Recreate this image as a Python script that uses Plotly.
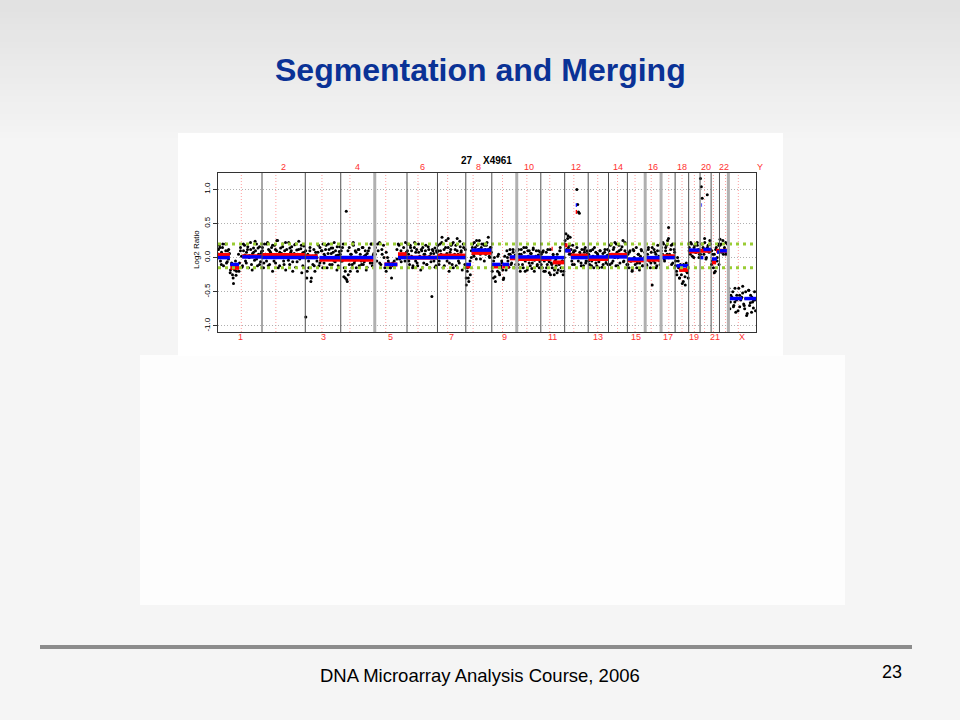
import plotly.graph_objects as go

# ---------------- data ----------------
chrom_names = ['1','2','3','4','5','6','7','8','9','10','11','12','13','14','15','16','17','18','19','20','21','22','X']
chrom_len = [247,243,199,191,181,171,159,146,140,135,134,132,114,106,100,89,79,76,64,62,47,50,155]   # Mb
centromere_frac = [0.53,0.32,0.47,0.27,0.34,0.36,0.36,0.28,0.43,0.42,0.375,0.39,0.47,0.48,0.43,0.38,0.55,0.51,0.5,0.41,0.27,0.68,0.36]
light_boundaries = [3, 8, 14, 15, 21]   # boundary after these chromosomes drawn light/thick

# log2 ratios per chromosome (in probe order), array A
log2_ratio_a = [
    [0.12,0.18,-0.05,0.08,0.15,-0.12,0.03,0.2,-0.08,0.1,-0.02,0.06,-0.18,-0.1,-0.25,-0.38,-0.14,-0.05,-0.2,-0.12,
     0.05,-0.08,0.15,0.02,-0.12,0.1,0.18,-0.05,0.08,0.12,-0.15,0.03,0.22,-0.1,0.06,0.14,-0.04,0.1,0.2,-0.12,0.05,0.16,-0.06,0.09],
    [0.1,-0.15,0.2,0.05,-0.05,0.22,0.12,-0.1,0.08,0.15,-0.2,0.03,0.18,-0.08,0.1,0.25,0.0,-0.12,0.14,0.06,0.2,-0.05,
     0.1,-0.18,0.12,0.04,0.22,-0.1,0.08,0.16,-0.06,0.02,0.19,-0.14,0.11,0.05,0.24,-0.02,0.13,-0.22,0.07,0.17,0.0],
    [-0.87,-0.3,0.05,-0.15,0.1,-0.35,0.0,-0.1,0.12,-0.2,0.04,-0.05,0.08,-0.12,0.15,-0.04,0.1,0.2,-0.08,0.02,0.18,
     -0.15,0.06,0.12,-0.02,0.14,-0.1,0.08,0.22,-0.06,0.03,0.16,-0.12,0.09,0.05],
    [0.1,-0.05,0.2,-0.15,-0.3,0.68,-0.35,-0.25,0.15,-0.2,0.05,-0.1,0.22,-0.08,0.1,-0.15,0.0,0.12,-0.12,0.05,-0.05,
     0.15,-0.1,0.02,0.1,-0.18,0.06,-0.02,0.14,-0.08,0.2,-0.12,0.04,0.0],
    [0.15,-0.05,0.1,0.22,-0.1,0.05,0.18,-0.15,0.08,0.0,-0.08,-0.15,-0.3,-0.12,-0.05,-0.1,0.12,0.2,-0.02,0.1,0.05,0.15,-0.05,0.08],
    [0.2,0.05,-0.1,0.15,0.1,-0.15,0.0,0.22,-0.05,0.12,-0.12,0.08,0.02,-0.18,0.1,0.15,-0.08,0.05,0.18,-0.1,0.0,0.12,
     -0.15,0.06,-0.57,0.1,-0.05,0.14,-0.12,0.08],
    [0.1,-0.1,0.2,0.05,0.3,-0.15,0.12,0.0,0.25,-0.05,0.15,-0.2,0.08,0.18,-0.1,0.22,0.02,0.12,-0.12,0.28,0.05,-0.08,
     0.16,0.1,-0.18,0.2,0.0,0.12],
    [-0.4,-0.2,-0.3,-0.1,-0.25,0.0,0.15,0.05,0.22,0.1,-0.02,0.18,0.12,0.25,0.05,0.15,0.08,0.2,-0.05,0.12,0.18,0.1,0.3,0.02,0.15,0.08],
    [-0.15,-0.3,0.0,-0.35,-0.1,-0.2,0.05,-0.25,-0.12,-0.05,-0.18,-0.3,0.02,-0.1,0.1,-0.05,0.05,0.12,-0.1,0.0,0.08,-0.15,0.04,0.1],
    [0.1,-0.1,0.05,-0.2,0.12,0.0,-0.15,0.08,-0.05,0.15,-0.18,0.02,0.1,-0.12,0.06,-0.08,0.14,-0.2,0.0,0.1,-0.1,0.04,-0.15,0.08],
    [0.05,-0.15,0.1,-0.05,-0.2,0.08,-0.1,0.0,-0.22,0.12,-0.08,-0.15,0.02,-0.25,-0.05,-0.12,0.05,-0.18,-0.1,0.15,-0.2,-0.05,-0.25,0.0],
    [0.2,0.35,0.1,0.28,0.15,0.05,0.3,0.12,-0.05,0.18,0.08,-0.1,0.1,0.02,1.0,0.78,0.67,0.65,0.05,-0.08,0.12,0.0,-0.12,0.08,0.15,-0.05,0.1,0.02],
    [0.05,-0.1,0.1,-0.05,0.12,-0.15,0.0,0.08,-0.12,0.04,-0.06,0.1,-0.02,-0.14,0.06,0.0,0.12,-0.08,0.03,-0.1],
    [0.1,-0.1,0.2,0.05,-0.05,0.15,0.22,-0.12,0.08,0.0,0.18,-0.08,0.12,0.02,0.25,-0.05,0.1,0.06,-0.1],
    [0.05,-0.15,0.1,-0.05,-0.2,0.12,0.0,-0.1,0.15,-0.08,0.05,-0.18,0.02,0.1,-0.12,-0.02,0.08],
    [0.1,-0.1,0.05,0.15,-0.05,-0.15,0.08,-0.4,0.0,0.12,-0.08,0.05,-0.12,0.18,0.02,-0.05,0.1],
    [0.15,0.05,0.2,-0.05,0.1,0.18,0.25,0.44,0.05,0.12,-0.1,0.2,0.0,0.08],
    [-0.05,-0.2,0.0,-0.15,-0.3,-0.1,-0.25,-0.12,-0.35,-0.18,-0.4,-0.08,-0.22,-0.3],
    [0.15,0.05,0.2,0.1,0.0,0.18,0.08,0.22,0.12,0.05],
    [1.16,1.04,0.87,0.15,0.05,0.22,0.1,0.0,0.92,0.18,0.08,0.25,0.12],
    [0.1,-0.05,-0.15,0.05,-0.2,0.15,0.0,0.2,-0.1],
    [0.27,0.2,0.1,0.05,0.15,0.22,0.08,0.12],
    [-0.45,-0.75,-0.55,-0.6,-0.5,-0.7,-0.65,-0.8,-0.55,-0.6,-0.45,-0.72,-0.62,-0.58,-0.42,-0.68,-0.75,-0.5,-0.85,
     -0.6,-0.48,-0.7,-0.55,-0.8,-0.65,-0.62,-0.5,-0.78],
]
# second probe set per chromosome, array B
log2_ratio_b = [
    [0.05,0.15,-0.1,0.2,0.0,0.1,-0.06,0.12,-0.22,-0.08,-0.3,-0.18,-0.26,-0.1,-0.2,0.1,-0.14,0.2,0.04,-0.08,0.16,0.0,
     0.12,-0.18,0.08,0.24,-0.02,0.14,-0.1,0.06],
    [0.15,-0.08,0.05,0.2,-0.12,0.1,0.02,0.18,-0.05,0.12,0.25,-0.15,0.08,0.0,0.16,-0.1,0.22,0.04,-0.04,0.14,0.1,-0.2,
     0.06,0.2,-0.06,0.12,0.02,0.18,-0.12,0.08],
    [0.1,-0.2,-0.05,0.15,-0.3,0.02,-0.12,0.08,0.0,0.18,-0.08,0.1,-0.15,0.05,0.12,-0.02,0.2,-0.1,0.06,0.14,-0.05,0.1,-0.18,0.04,0.16],
    [-0.05,0.15,-0.28,-0.2,-0.32,0.1,-0.1,0.05,-0.15,0.18,-0.05,0.08,-0.2,0.12,0.0,-0.1,0.15,-0.06,0.04,-0.14,0.1,-0.02,0.2,-0.08,0.06],
    [0.05,0.2,-0.08,0.12,0.0,-0.2,-0.05,-0.15,-0.08,-0.12,-0.02,0.18,-0.06,0.05,0.22],
    [0.1,-0.05,0.18,0.02,-0.12,0.15,0.08,-0.08,0.2,0.0,0.12,-0.15,0.05,0.1,-0.1,0.16,0.02,-0.06,0.12,0.06,-0.14,0.1],
    [0.18,-0.05,0.1,0.22,0.0,-0.12,0.15,0.06,0.28,-0.08,0.12,0.2,-0.15,0.05,0.18,0.1,-0.05,0.24,0.08,0.0,0.15,-0.1],
    [-0.3,-0.15,-0.35,-0.05,0.1,0.2,0.02,0.15,0.25,0.08,0.12,-0.02,0.2,0.1,0.18,0.05,0.22,0.12,0.0,0.15],
    [-0.2,-0.05,-0.28,-0.12,0.02,-0.22,-0.15,-0.08,-0.32,-0.1,-0.18,0.0,-0.14,0.05,-0.08,0.12,0.0,-0.1],
    [-0.05,0.12,-0.15,0.05,-0.1,0.15,-0.2,0.0,0.1,-0.08,0.06,-0.16,0.12,-0.04,0.02,-0.12,0.1,-0.06],
    [-0.1,0.08,-0.2,0.0,-0.15,0.12,-0.06,-0.25,-0.1,0.05,-0.18,-0.02,-0.22,-0.08,0.1,-0.15,-0.05,-0.2],
    [0.25,0.12,0.32,0.18,0.05,-0.1,0.1,0.0,0.15,-0.05,0.08,-0.12,0.04,0.12,-0.08,0.06],
    [-0.05,0.1,-0.12,0.02,0.15,-0.08,0.06,-0.15,0.1,0.0,-0.1,0.08,-0.04,0.12],
    [0.05,0.18,-0.08,0.12,0.0,0.2,-0.12,0.1,0.04,0.16,-0.06,0.22,0.02],
    [-0.1,0.08,-0.05,-0.18,0.1,-0.02,-0.15,0.05,-0.08,0.12,-0.12,0.0],
    [0.05,-0.12,0.12,0.0,-0.08,0.15,-0.05,0.08,-0.15,0.1,0.0,-0.1],
    [0.1,0.22,-0.02,0.15,0.05,0.28,0.0,0.18,-0.08,0.12],
    [-0.12,-0.25,-0.05,-0.3,-0.18,-0.38,-0.1,-0.28,-0.2,-0.15],
    [0.1,0.22,0.02,0.15,0.08,0.18,0.0],
    [0.05,0.2,0.12,0.28,-0.02,0.15,0.1,0.2],
    [-0.1,0.05,-0.22,0.12,-0.05,0.18],
    [0.18,0.08,0.25,0.12,0.05,0.2],
    [-0.5,-0.65,-0.58,-0.72,-0.45,-0.62,-0.78,-0.55,-0.6,-0.52,-0.7,-0.6,-0.82,-0.48,-0.66,-0.58,-0.74,-0.62],
]

# segments: (chromosome index, start fraction, end fraction, level)
seg_red = [
    (0,0.0,0.27,0.04),(0,0.28,0.48,-0.15),(0,0.55,1.0,0.02),
    (1,0.0,1.0,0.04),
    (2,0.0,0.35,0.02),(2,0.4,1.0,-0.03),
    (3,0.0,1.0,-0.03),
    (4,0.3,0.7,-0.1),(4,0.72,1.0,0.05),
    (5,0.0,1.0,0.0),
    (6,0.0,1.0,0.03),
    (7,0.0,0.2,-0.13),(7,0.22,1.0,0.07),
    (8,0.0,0.35,-0.13),(8,0.42,0.7,-0.13),(8,0.72,1.0,-0.01),
    (9,0.0,1.0,-0.02),
    (10,0.0,0.45,-0.02),(10,0.45,0.5,0.13),(10,0.5,1.0,-0.07),
    (11,0.0,0.12,0.18),(11,0.12,0.26,0.1),(11,0.26,1.0,0.03),(11,0.47,0.53,0.67),
    (12,0.0,1.0,-0.02),
    (13,0.0,1.0,0.04),
    (14,0.0,1.0,-0.04),
    (15,0.0,1.0,-0.03),
    (16,0.0,1.0,0.02),
    (17,0.3,1.0,-0.18),
    (18,0.0,1.0,0.09),
    (19,0.0,1.0,0.1),
    (20,0.1,0.6,-0.07),(20,0.6,1.0,0.1),
    (21,0.0,1.0,0.1),
]
seg_blue = [
    (0,0.0,0.27,0.0),(0,0.28,0.48,-0.1),(0,0.55,1.0,0.01),
    (1,0.0,1.0,0.0),
    (2,0.0,0.35,0.0),(2,0.4,1.0,0.0),
    (3,0.0,1.0,0.0),
    (4,0.3,0.7,-0.1),(4,0.72,1.0,0.0),
    (5,0.0,1.0,0.0),
    (6,0.0,1.0,0.0),
    (7,0.0,0.2,-0.1),(7,0.22,1.0,0.11),
    (8,0.0,0.35,-0.1),(8,0.42,0.7,-0.1),(8,0.72,1.0,0.01),
    (9,0.0,1.0,0.01),
    (10,0.0,1.0,0.0),
    (11,0.0,0.26,0.1),(11,0.26,1.0,0.0),(11,0.47,0.53,0.77),
    (12,0.0,1.0,0.01),
    (13,0.0,1.0,0.01),
    (14,0.0,1.0,-0.02),
    (15,0.0,1.0,0.0),
    (16,0.0,1.0,0.0),
    (17,0.1,1.0,-0.12),
    (18,0.0,1.0,0.11),
    (19,0.0,0.3,0.0),(19,0.3,1.0,0.12),(19,0.12,0.18,0.77),
    (20,0.1,0.7,-0.02),(20,0.7,1.0,0.08),
    (21,0.0,1.0,0.1),
    (22,0.0,0.5,-0.6),(22,0.58,1.0,-0.6),
]
upper_threshold = 0.2
lower_threshold = -0.15
y_ticks = [-1.0, -0.5, 0.0, 0.5, 1.0]
y_tick_text = ['-1.0', '-0.5', '0.0', '0.5', '1.0']

# ---------------- derived positions ----------------
offsets = []
acc = 0
for L in chrom_len:
    offsets.append(acc)
    acc += L
genome_end = acc

W, H = 960, 720
px_l, px_r, px_t, px_b = 218, 756, 173, 332
FONT = 'Liberation Sans, Arial, sans-serif'

pt_x, pt_y = [], []
for arr, shift in ((log2_ratio_a, 0.5), (log2_ratio_b, 0.3)):
    for i, vals in enumerate(arr):
        n = len(vals)
        for j, v in enumerate(vals):
            pt_x.append(offsets[i] + (j + shift) / n * chrom_len[i])
            pt_y.append(v)

def seg_xy(segs):
    xs, ys = [], []
    for (c, f0, f1, v) in segs:
        xs += [offsets[c] + f0 * chrom_len[c], offsets[c] + f1 * chrom_len[c], None]
        ys += [v, v, None]
    return xs, ys

fig = go.Figure()

fig.add_trace(go.Scatter(x=pt_x, y=pt_y, mode='markers',
                         marker=dict(color='black', size=3, line=dict(width=0)),
                         showlegend=False, hoverinfo='skip', cliponaxis=True))
rx, ry = seg_xy(seg_red)
fig.add_trace(go.Scatter(x=rx, y=ry, mode='lines', line=dict(color='#ff0000', width=4),
                         showlegend=False, hoverinfo='skip'))
bx, by = seg_xy(seg_blue)
fig.add_trace(go.Scatter(x=bx, y=by, mode='lines', line=dict(color='#0000ff', width=3.5),
                         showlegend=False, hoverinfo='skip'))

shapes = []
# slide background gradient at top
n_strips = 24
for k in range(n_strips):
    t = k / (n_strips - 1)
    g = int(0xe2 + (0xf5 - 0xe2) * t)
    shapes.append(dict(type='rect', xref='paper', yref='paper', layer='below',
                       x0=0, x1=1, y0=1 - (k + 1) * 6 / H, y1=1 - k * 6 / H,
                       fillcolor='rgb(%d,%d,%d)' % (g, g, g), line=dict(width=0)))
# white panels
shapes.append(dict(type='rect', xref='paper', yref='paper', layer='below',
                   x0=140 / W, x1=845 / W, y0=1 - 605 / H, y1=1 - 355 / H,
                   fillcolor='#fdfdfd', line=dict(width=0)))
shapes.append(dict(type='rect', xref='paper', yref='paper', layer='below',
                   x0=178 / W, x1=783 / W, y0=1 - 356 / H, y1=1 - 133 / H,
                   fillcolor='#ffffff', line=dict(width=0)))
# centromere dotted lines
for i, f in enumerate(centromere_frac):
    xc = offsets[i] + f * chrom_len[i]
    shapes.append(dict(type='line', xref='x', yref='y domain', x0=xc, x1=xc, y0=0, y1=1,
                       line=dict(color='#ffa0a0', width=1, dash='1px,2px'), layer='below'))
# threshold lines
for yv in (upper_threshold, lower_threshold):
    shapes.append(dict(type='line', xref='x domain', yref='y', x0=0, x1=1, y0=yv, y1=yv,
                       line=dict(color='#99cc33', width=3, dash='3px,4px'), layer='above'))
# chromosome boundaries
for i in range(len(chrom_len) - 1):
    xb = offsets[i] + chrom_len[i]
    if i in light_boundaries:
        ln = dict(color='#b0b0b0', width=3)
    else:
        ln = dict(color='#505050', width=1)
    shapes.append(dict(type='line', xref='x', yref='y domain', x0=xb, x1=xb, y0=0, y1=1,
                       line=ln, layer='above'))
# footer rule
shapes.append(dict(type='line', xref='paper', yref='paper', x0=40 / W, x1=912 / W,
                   y0=1 - 647 / H, y1=1 - 647 / H, line=dict(color='#8c8c8c', width=4)))

def ann(x, y, text, size, color='black', xref='paper', angle=0):
    return dict(x=x, y=y, xref=xref, yref='paper', text=text, showarrow=False,
                xanchor='center', yanchor='middle', textangle=angle,
                font=dict(color=color, size=size, family=FONT))

annotations = []
for i, name in enumerate(chrom_names):
    xc = offsets[i] + chrom_len[i] / 2
    top = (i % 2 == 1)
    annotations.append(ann(xc, 1 - (167 if top else 337) / H, name, 9, '#ff3030', xref='x'))
annotations.append(ann(760 / W, 1 - 167 / H, 'Y', 9, '#ff3030'))
annotations.append(ann(466.5 / W, 1 - 160.5 / H, '<b>27</b>', 10))
annotations.append(ann(497 / W, 1 - 160.5 / H, '<b>X4961</b>', 10))
annotations.append(ann(196 / W, 1 - 250 / H, 'Log2 Ratio', 8, angle=-90))
annotations.append(ann(480 / W, 1 - 70 / H, '<b>Segmentation and Merging</b>', 32, '#0a3296'))
annotations.append(ann(480 / W, 1 - 675 / H, 'DNA Microarray Analysis Course, 2006', 18.5))
annotations.append(ann(891.5 / W, 1 - 672 / H, '23', 18))

fig.update_layout(
    width=W, height=H,
    margin=dict(l=0, r=0, t=0, b=0),
    paper_bgcolor='#f5f5f5', plot_bgcolor='#ffffff',
    shapes=shapes, annotations=annotations,
    xaxis=dict(range=[0, genome_end], domain=[px_l / W, px_r / W],
               showgrid=False, zeroline=False, showticklabels=False, ticks='',
               showline=True, mirror=True, linecolor='#333333', linewidth=1, fixedrange=True),
    yaxis=dict(range=[-1.09, 1.24], domain=[1 - px_b / H, 1 - px_t / H],
               tickvals=y_ticks, ticktext=y_tick_text, tickangle=-90,
               ticks='outside', ticklen=4, tickcolor='#333333',
               tickfont=dict(size=8, color='black', family=FONT),
               showgrid=True, gridcolor='#b0b0b0', griddash='1px,2px', gridwidth=1,
               zeroline=False, showline=True, mirror=True, linecolor='#333333', linewidth=1,
               fixedrange=True),
)

fig.write_html("out.html", config={'displayModeBar': False},
               post_script="document.body.style.margin='0';document.body.style.overflow='hidden';")
